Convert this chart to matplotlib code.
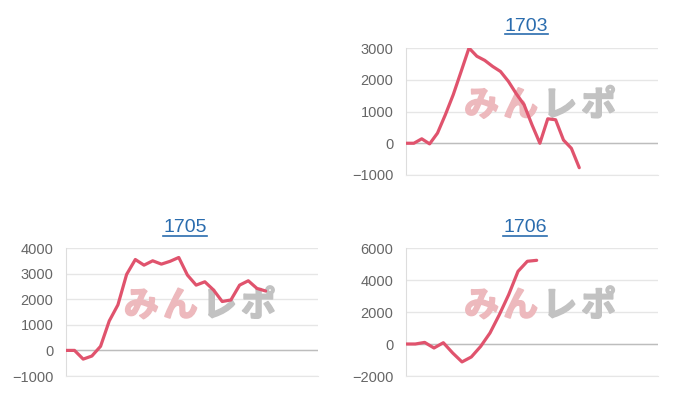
import matplotlib
matplotlib.use("Agg")
import matplotlib.pyplot as plt
from matplotlib.lines import Line2D
import matplotlib.patheffects as pe

plt.rcParams['font.family'] = ['Liberation Sans', 'DejaVu Sans']

# machine numbers and their running difference (coins)
titles = ['1703', '1705', '1706']
diff_1703 = [0, 0, 140, -20, 320, 900, 1530, 2260, 3000, 2740, 2610, 2420,
             2260, 1950, 1560, 1210, 580, 0, 770, 740, 100, -160, -770]
diff_1705 = [0, 0, -340, -220, 160, 1150, 1780, 2970, 3550, 3330, 3500, 3370,
             3480, 3630, 2940, 2550, 2680, 2360, 1910, 1970, 2550, 2720, 2420, 2320]
diff_1706 = [0, 0, 100, -250, 80, -560, -1120, -810, -150, 690, 1830, 3080,
             4540, 5170, 5230]
n_labels = [33, 30, 28]
y_ranges = [(-1000, 3000), (-1000, 4000), (-2000, 6000)]
y_steps = [1000, 1000, 2000]
series = [diff_1703, diff_1705, diff_1706]

line_color = '#e0536d'
title_color = '#2a6cae'

fig = plt.figure(figsize=(7, 4), dpi=100)

# axes boxes in figure fractions (top-left slot is empty)
boxes = [[0.58, 0.5625, 0.36, 0.3175],
         [0.094, 0.06, 0.36, 0.32],
         [0.58, 0.06, 0.36, 0.32]]
title_pos = [(0.752, 0.923), (0.264, 0.419), (0.75, 0.419)]

titles_txt = []
for box, name, vals, n, (lo, hi), step, tp in zip(boxes, titles, series, n_labels,
                                                  y_ranges, y_steps, title_pos):
    ax = fig.add_axes(box)
    ax.plot(range(len(vals)), vals, color=line_color, lw=2.3, zorder=3,
            solid_joinstyle='round', solid_capstyle='round')
    ax.set_xlim(0, n - 1)
    ax.set_ylim(lo, hi)
    ax.set_yticks(range(lo, hi + 1, step))
    ax.set_xticks([])
    ax.grid(axis='y', color='#e6e6e6', lw=1)
    ax.axhline(0, color='#bdbdbd', lw=1, zorder=2)
    ax.tick_params(axis='y', length=0, pad=9, labelsize=10.5, labelcolor='#666666')
    for s in ['top', 'right']:
        ax.spines[s].set_visible(False)
    ax.spines['left'].set_color('#dddddd')
    ax.spines['bottom'].set_color('#e6e6e6')
    ax.set_axisbelow(True)

    # みんレポ watermark
    for i, ch in enumerate('みんレポ'):
        c = '#edb9bd' if i < 2 else '#c2c2c2'
        ax.text(0.30 + 0.155 * i, 0.55, ch, transform=ax.transAxes,
                ha='center', va='center', fontsize=25, fontweight='bold',
                family=['Noto Sans CJK JP', 'DejaVu Sans'], color=c, zorder=1,
                path_effects=[pe.withStroke(linewidth=1.3, foreground=c)])

    t = fig.text(tp[0], tp[1], name, ha='center', va='baseline',
                 fontsize=14, color=title_color)
    titles_txt.append(t)

# underline the titles like links
fig.canvas.draw()
r = fig.canvas.get_renderer()
for t in titles_txt:
    bb = t.get_window_extent(r).transformed(fig.transFigure.inverted())
    yb = t.get_position()[1] - 0.009
    fig.add_artist(Line2D([bb.x0, bb.x1], [yb, yb], color=title_color, lw=1.2))

fig.savefig('out.png', dpi=100)
